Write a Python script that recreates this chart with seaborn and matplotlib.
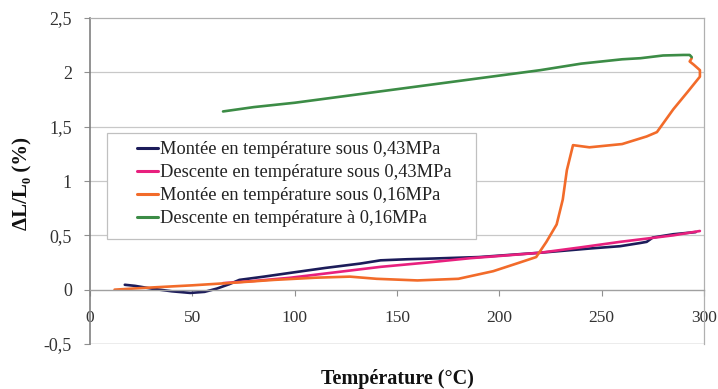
import numpy as np
import pandas as pd
import matplotlib
matplotlib.use("Agg")
import matplotlib.pyplot as plt
import seaborn as sns
from matplotlib.ticker import FuncFormatter, MultipleLocator
from matplotlib.patches import Rectangle

# ---- data ----
labels = [
    "Montée en température sous 0,43MPa",
    "Descente en température sous 0,43MPa",
    "Montée en température sous 0,16MPa",
    "Descente en température à 0,16MPa",
]
colors = ["#1c1c5a", "#e8207e", "#f26b2a", "#3c8c46"]

navy_T = [17, 22, 30, 40, 49, 56, 62, 68, 73, 85, 98, 115, 132, 142, 155, 165, 190, 220, 245, 259, 269, 272, 275, 285, 296]
navy_y = [0.045, 0.035, 0.01, -0.015, -0.03, -0.02, 0.01, 0.05, 0.09, 0.12, 0.155, 0.20, 0.24, 0.27, 0.28, 0.285, 0.30, 0.34, 0.38, 0.40, 0.43, 0.44, 0.48, 0.51, 0.53]

pink_T = [298, 285, 272, 259, 240, 220, 200, 186, 165, 142, 120, 98, 80, 65]
pink_y = [0.54, 0.50, 0.47, 0.44, 0.39, 0.34, 0.31, 0.29, 0.25, 0.21, 0.16, 0.11, 0.08, 0.06]

orange_T = [12, 30, 50, 67, 90, 110, 127, 140, 160, 180, 197, 210, 218, 223, 228, 231, 233, 236, 244, 260, 272, 277, 285, 292, 298, 298, 295, 293, 294]
orange_y = [0.0, 0.02, 0.04, 0.06, 0.09, 0.11, 0.12, 0.10, 0.085, 0.10, 0.17, 0.25, 0.30, 0.44, 0.60, 0.83, 1.10, 1.33, 1.31, 1.34, 1.41, 1.45, 1.66, 1.82, 1.96, 2.02, 2.07, 2.10, 2.13]

green_T = [294, 293, 290, 280, 269, 260, 240, 220, 200, 180, 160, 132, 100, 80, 65]
green_y = [2.14, 2.16, 2.16, 2.155, 2.13, 2.12, 2.08, 2.02, 1.97, 1.92, 1.87, 1.80, 1.72, 1.68, 1.64]

series_T = [navy_T, pink_T, orange_T, green_T]
series_y = [navy_y, pink_y, orange_y, green_y]

frames = []
for lab, T, y in zip(labels, series_T, series_y):
    d = pd.DataFrame({"T": T, "y": y})
    d["serie"] = lab
    frames.append(d)
df = pd.concat(frames, ignore_index=True)

sns.set_style("white")
serif = ["Liberation Serif", "DejaVu Serif"]
plt.rcParams["font.family"] = serif

W, H = 718, 389
fig = plt.figure(figsize=(W / 100, H / 100), dpi=100)
ax = fig.add_axes([90 / W, 1 - 344 / H, 614 / W, 326 / H])

sns.lineplot(data=df, x="T", y="y", hue="serie", hue_order=labels,
             palette=dict(zip(labels, colors)), sort=False, estimator=None,
             units="serie", linewidth=1.9, ax=ax, legend=True)

ax.set_xlim(0, 300)
ax.set_ylim(-0.5, 2.5)
ax.yaxis.set_major_locator(MultipleLocator(0.5))
ax.xaxis.set_major_locator(MultipleLocator(50))

def fmt(v, pos):
    return ("%g" % v).replace(".", ",")

ax.yaxis.set_major_formatter(FuncFormatter(fmt))
ax.xaxis.set_major_formatter(FuncFormatter(fmt))

# gridlines
for yv in [0.5, 1.0, 1.5, 2.0]:
    ax.axhline(yv, color="#c8c8c8", linewidth=0.9, zorder=0)

ax.spines["bottom"].set_position(("data", 0))
ax.spines["bottom"].set_color("#a0a0a0")
ax.spines["bottom"].set_linewidth(1.0)
ax.spines["left"].set_color("#808080")
ax.spines["left"].set_linewidth(1.2)
for s in ["top", "right"]:
    ax.spines[s].set_visible(True)
    ax.spines[s].set_color("#b0b0b0")
    ax.spines[s].set_linewidth(0.9)
ax.axhline(-0.5, color="#a0a0a0", linewidth=1.0, zorder=0)

ax.tick_params(axis="x", direction="out", length=4, color="#909090", pad=11,
               labelsize=12.5, labelcolor="#333333", bottom=True)
ax.tick_params(axis="y", direction="out", length=4, color="#909090", pad=9,
               labelsize=13, labelcolor="#333333", left=True)

ax.set_xlabel("")
ax.set_ylabel("")
fig.text(397 / W, 1 - 379 / H, "Température (°C)", fontsize=14.5, fontweight="bold",
         ha="center", va="center", color="#111111")
fig.text(22 / W, 1 - 183 / H, "ΔL/L₀ (%)", fontsize=15, fontweight="bold",
         ha="center", va="center", rotation=90, color="#111111")

# legend box drawn as a rectangle, entries without frame
box = Rectangle(((107 - 90) / 614, (344 - 239) / 326), (476 - 107) / 614, (239 - 133) / 326,
                transform=ax.transAxes, facecolor="white", edgecolor="#c0c0c0",
                linewidth=0.9, zorder=4)
ax.add_patch(box)
leg = ax.legend(loc="upper left", bbox_to_anchor=((137 - 90) / 614, (344 - 141) / 326),
                borderaxespad=0, borderpad=0, frameon=False, fontsize=13.2,
                handlelength=1.15, handletextpad=0.12, labelspacing=0.33, title=None)
leg.set_zorder(5)
for t in leg.get_texts():
    t.set_color("#222222")
for h in leg.get_lines():
    h.set_linewidth(2.2)

fig.savefig("out.png", dpi=100)
